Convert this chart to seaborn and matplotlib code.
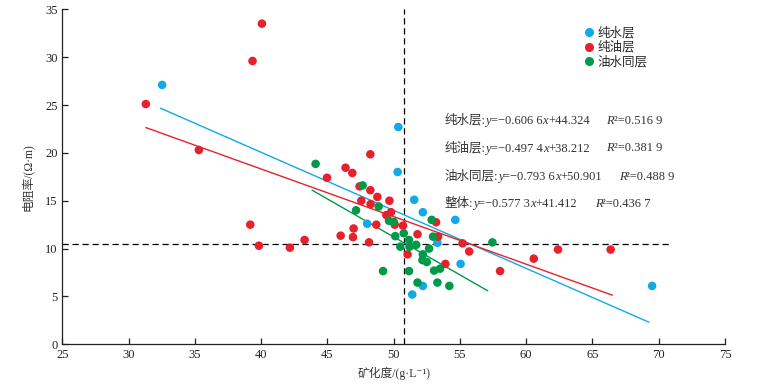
import numpy as np
import pandas as pd
import matplotlib
matplotlib.use("Agg")
import matplotlib.pyplot as plt
import seaborn as sns
from matplotlib.lines import Line2D
from matplotlib.offsetbox import TextArea, HPacker, AnnotationBbox

# ---- data ----
water_x = [32.53, 50.35, 50.3, 51.55, 52.2, 54.65, 48.0, 53.3, 55.05, 52.2, 51.4, 69.5]
water_y = [27.1, 22.7, 18.0, 15.1, 13.8, 13.0, 12.6, 10.6, 8.4, 6.1, 5.2, 6.1]

oil_x = [31.3, 40.06, 39.35, 35.3, 44.97, 46.37, 46.88, 48.24, 47.43, 48.24, 48.77,
         39.18, 39.83, 42.17, 43.28, 46.0, 46.93, 46.98, 47.56, 48.26, 48.69, 48.14,
         49.68, 49.45, 49.8, 50.08, 50.7, 53.2, 51.8, 53.35, 51.05, 55.2, 55.7, 53.9,
         58.03, 60.57, 62.4, 66.37]
oil_y = [25.1, 33.5, 29.6, 20.3, 17.4, 18.45, 17.9, 19.85, 16.5, 16.1, 15.4,
         12.5, 10.3, 10.1, 10.9, 11.35, 11.2, 12.1, 15.0, 14.65, 12.5, 10.65,
         15.0, 13.5, 13.8, 12.5, 12.4, 12.75, 11.5, 11.25, 9.4, 10.55, 9.7, 8.4,
         7.65, 8.95, 9.9, 9.9]

mix_x = [44.11, 47.66, 47.16, 48.87, 49.65, 50.0, 50.12, 50.76, 50.5, 51.16, 51.2, 51.7,
         52.67, 52.87, 52.97, 52.2, 52.17, 52.5, 53.05, 53.5, 51.16, 49.2, 51.8, 53.3,
         54.2, 57.45]
mix_y = [18.85, 16.6, 14.0, 14.4, 12.9, 12.8, 11.3, 11.6, 10.2, 10.9, 10.2, 10.4,
         10.0, 13.0, 11.25, 9.4, 8.8, 8.6, 7.7, 7.9, 7.65, 7.65, 6.45, 6.45,
         6.1, 10.65]

categories = ["纯水层", "纯油层", "油水同层"]
slopes = [-0.6066, -0.4974, -0.7936]
intercepts = [44.324, 38.212, 50.901]
fit_start = [32.4, 31.3, 43.84]
fit_end = [69.27, 66.5, 57.1]
eq_names = ["纯水层", "纯油层", "油水同层", "整体"]
eq_slopes = ["−0.606 6", "−0.497 4", "−0.793 6", "−0.577 3"]
eq_intercepts = ["+44.324", "+38.212", "+50.901", "+41.412"]
r2_values = ["0.516 9", "0.381 9", "0.488 9", "0.436 7"]

cut_x = 50.75
cut_y = 10.5

x_ticks = [25, 30, 35, 40, 45, 50, 55, 60, 65, 70, 75]
y_ticks = [0, 5, 10, 15, 20, 25, 30, 35]

colors = {"纯水层": "#12a9e6", "纯油层": "#e6212b", "油水同层": "#00994a"}

# ---- build table ----
df = pd.concat([
    pd.DataFrame({"x": water_x, "y": water_y, "type": "纯水层"}),
    pd.DataFrame({"x": oil_x, "y": oil_y, "type": "纯油层"}),
    pd.DataFrame({"x": mix_x, "y": mix_y, "type": "油水同层"}),
], ignore_index=True)

sns.set_style("ticks")
FAM = ["Liberation Serif", "Noto Sans CJK SC", "DejaVu Sans"]
plt.rcParams["font.family"] = FAM
plt.rcParams["axes.unicode_minus"] = True

fig = plt.figure(figsize=(7.61, 3.87), dpi=100)
ax = fig.add_axes([0.0819, 0.1103, 0.8708, 0.8657])

sns.scatterplot(data=df, x="x", y="y", hue="type", palette=colors, s=38,
                edgecolor="none", linewidth=0, legend=False, ax=ax, zorder=3)

for cat, m, b, x0, x1 in zip(categories, slopes, intercepts, fit_start, fit_end):
    xs = np.array([x0, x1])
    sns.lineplot(x=xs, y=m * xs + b, color=colors[cat], lw=1.0, ax=ax, zorder=2)

ax.plot([25, 70.9], [cut_y, cut_y], ls=(0, (5, 3)), color="black", lw=0.9, zorder=1)
ax.plot([cut_x, cut_x], [0, 35], ls=(0, (5, 3)), color="black", lw=0.9, zorder=1)

ax.set_xlim(25, 75)
ax.set_ylim(0, 35)
ax.set_xticks(x_ticks)
ax.set_yticks(y_ticks)
ax.tick_params(direction="in", length=4, width=0.9, labelsize=9, colors="#222222")
for sp in ["top", "right"]:
    ax.spines[sp].set_visible(False)
for sp in ["left", "bottom"]:
    ax.spines[sp].set_linewidth(0.9)
    ax.spines[sp].set_color("#222222")

ax.set_xlabel("矿化度/(g·L⁻¹)", fontsize=8.5, labelpad=4, color="#333333")
ax.set_ylabel("电阻率/(Ω·m)", fontsize=8.5, labelpad=8, color="#333333")

# equations
TXT = dict(fontsize=9, color="#333333", family=FAM)
ITA = dict(fontsize=9, color="#333333", family=FAM, style="italic")


def place(parts, x, y):
    boxes = [TextArea(t, textprops=(ITA if it else TXT)) for t, it in parts]
    pk = HPacker(children=boxes, align="baseline", pad=0, sep=0)
    ab = AnnotationBbox(pk, (x, y), xycoords="data", box_alignment=(0, 0.5),
                        frameon=False, pad=0)
    ax.add_artist(ab)


eq_y = [23.37, 20.48, 17.51, 14.66]
r2_x = [66.06, 66.06, 66.97, 65.18]
for name, sl, ic, r2, yy, rx in zip(eq_names, eq_slopes, eq_intercepts, r2_values, eq_y, r2_x):
    place([(name + ":", False), ("y", True), ("=" + sl, False), ("x", True), (ic, False)], 53.83, yy)
    place([("R", True), ("²=" + r2, False)], rx, yy)

handles = [Line2D([0], [0], marker="o", ls="none", color=colors[c], markersize=5.5) for c in categories]
ax.legend(handles, categories, loc="upper left", bbox_to_anchor=(0.779, 0.966), frameon=False,
          handlelength=0.6, handletextpad=0.4, labelspacing=0.15, borderpad=0, fontsize=9)

fig.savefig("out.png", dpi=100)
